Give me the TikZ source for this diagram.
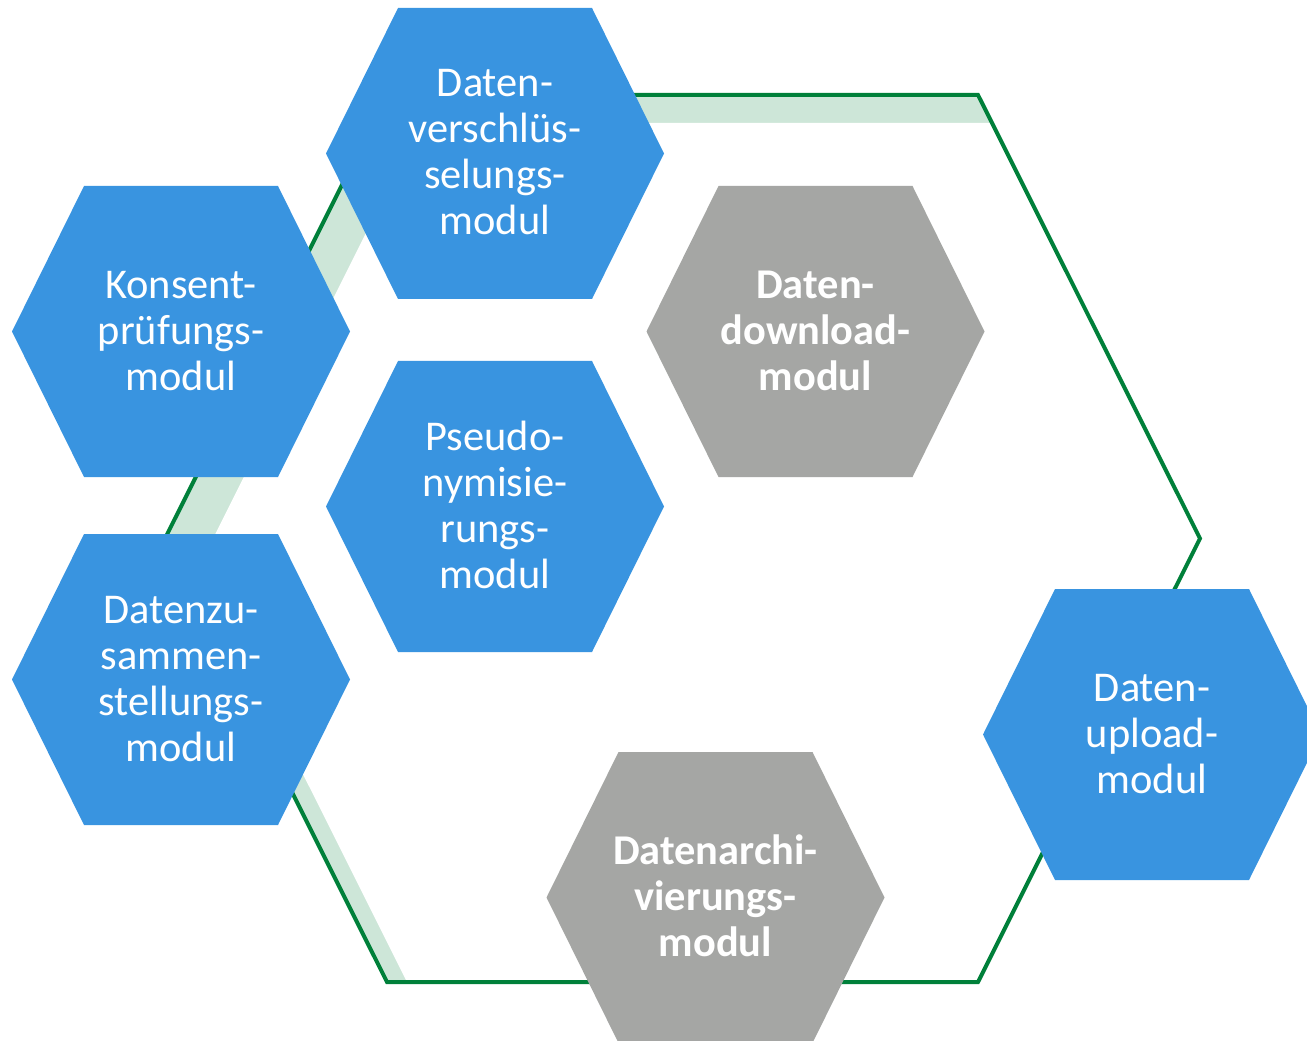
\documentclass[tikz,border=0pt]{standalone}
\usepackage{fontspec}
\setmainfont{Carlito}

\tikzset{every picture/.style={line width=0.75pt}}
\tikzset{
  blauhex/.style={fill={rgb, 255:red, 57; green, 148; blue, 224}, draw=none},
  grauhex/.style={fill={rgb, 255:red, 165; green, 166; blue, 164}, draw=none},
  modtext/.style={anchor=base, align=center, text=white, inner sep=0pt,
    font=\fontsize{31.8}{34.5}\selectfont},
  modtextfett/.style={modtext, font=\fontsize{31.8}{34.5}\selectfont\bfseries}
}

\begin{document}
\begin{tikzpicture}[x=0.75pt,y=0.75pt,yscale=-1,xscale=1]
\useasboundingbox (0,0) rectangle (1307,1041);
\clip (0,0) rectangle (1307,1041);

%Shape: Hexagon shadow band [inner shadow]
\begin{scope}
\clip (165,538.5) -- (387,95) -- (978,95) -- (1200,538.5) -- (978,982) -- (387,982) -- cycle ;
\fill [color={rgb, 255:red, 205; green, 230; blue, 216 }] (165,538.5) -- (387,95) -- (978,95) -- (1200,538.5) -- (978,982) -- (387,982) -- cycle ;
\fill [white] (199,566.5) -- (421,123) -- (1012,123) -- (1234,566.5) -- (1012,1010) -- (421,1010) -- cycle ;
\end{scope}

%Shape: Hexagon [big cycle]
\draw [color={rgb, 255:red, 0; green, 128; blue, 58 }, draw opacity=1][line width=3] (165,538.5) -- (387,95) -- (978,95) -- (1200,538.5) -- (978,982) -- (387,982) -- cycle ;

%Shape: Hexagon [verschluesselung]
\draw [blauhex] (326,153.5) -- (398,8) -- (592,8) -- (664,153.5) -- (592,299) -- (398,299) -- cycle ;
%Shape: Hexagon [konsent]
\draw [blauhex] (12,331.5) -- (84,186) -- (278,186) -- (350,331.5) -- (278,477) -- (84,477) -- cycle ;
%Shape: Hexagon [pseudo]
\draw [blauhex] (326,506.5) -- (398,361) -- (592,361) -- (664,506.5) -- (592,652) -- (398,652) -- cycle ;
%Shape: Hexagon [zusammen]
\draw [blauhex] (12,679.5) -- (84,534) -- (278,534) -- (350,679.5) -- (278,825) -- (84,825) -- cycle ;
%Shape: Hexagon [download]
\draw [grauhex] (646.5,331.5) -- (718.5,186) -- (912.5,186) -- (984.5,331.5) -- (912.5,477) -- (718.5,477) -- cycle ;
%Shape: Hexagon [archiv]
\draw [grauhex] (546.5,897.5) -- (618.5,752) -- (812.5,752) -- (884.5,897.5) -- (812.5,1043) -- (618.5,1043) -- cycle ;
%Shape: Hexagon [upload]
\draw [blauhex] (983,734.5) -- (1055,589) -- (1249,589) -- (1321,734.5) -- (1249,880) -- (1055,880) -- cycle ;

% Text Node
\draw (495,235) node (verschl) [modtext] {Daten-\\verschlüs-\\selungs-\\modul};
% Text Node
\draw (181,390) node (konsent) [modtext] {Konsent-\\prüfungs-\\modul};
% Text Node
\draw (495,588) node (pseudo) [modtext] {Pseudo-\\nymisie-\\rungs-\\modul};
% Text Node
\draw (181,761) node (zusammen) [modtext] {Datenzu-\\sammen-\\stellungs-\\modul};
% Text Node
\draw (815.5,390) node (download) [modtextfett] {Daten-\\download-\\modul};
% Text Node
\draw (715.5,956) node (archiv) [modtextfett] {Datenarchi-\\vierungs-\\modul};
% Text Node
\draw (1152,793) node (upload) [modtext] {Daten-\\upload-\\modul};

\end{tikzpicture}
\end{document}
